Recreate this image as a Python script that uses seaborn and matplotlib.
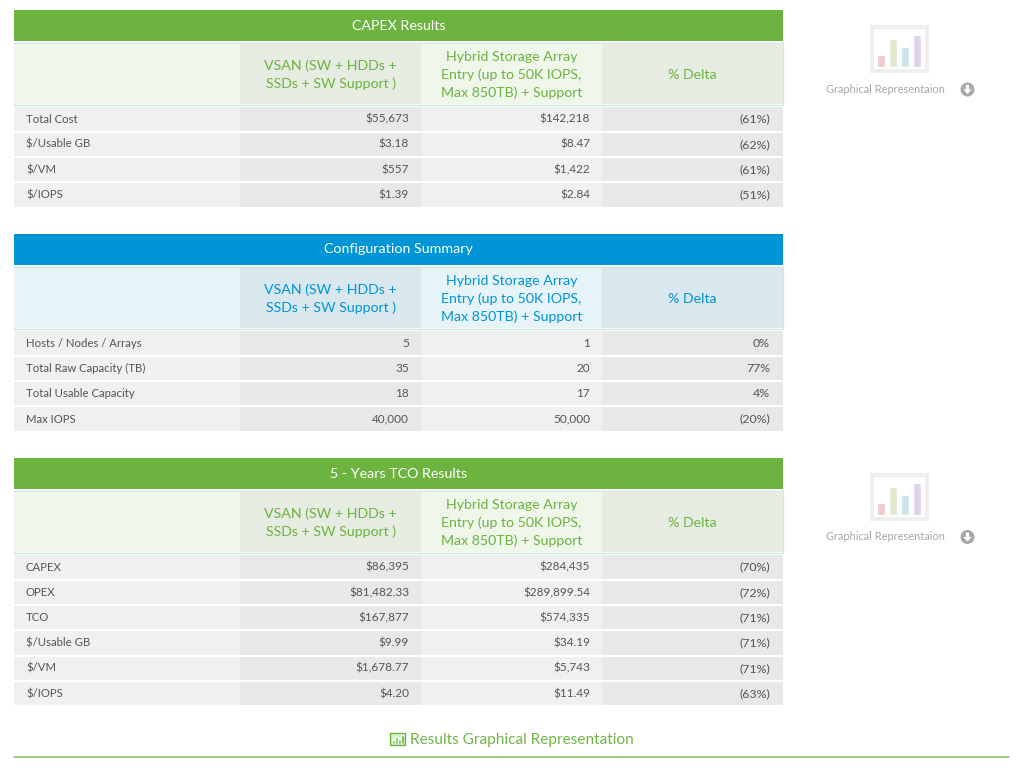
import numpy as np
import seaborn as sns
import matplotlib.pyplot as plt
from matplotlib.colors import ListedColormap
from matplotlib.patches import Rectangle, Circle, Polygon

W, H = 1024, 768

col_headers = ["", "VSAN (SW + HDDs +\nSSDs + SW Support )",
               "Hybrid Storage Array\nEntry (up to 50K IOPS,\nMax 850TB) + Support", "% Delta"]

capex_labels = ["Total Cost", "$/Usable GB", "$/VM", "$/IOPS"]
capex_vsan = ["$55,673", "$3.18", "$557", "$1.39"]
capex_hybrid = ["$142,218", "$8.47", "$1,422", "$2.84"]
capex_delta = ["(61%)", "(62%)", "(61%)", "(51%)"]

config_labels = ["Hosts / Nodes / Arrays", "Total Raw Capacity (TB)", "Total Usable Capacity", "Max IOPS"]
config_vsan = ["5", "35", "18", "40,000"]
config_hybrid = ["1", "20", "17", "50,000"]
config_delta = ["0%", "77%", "4%", "(20%)"]

tco_labels = ["CAPEX", "OPEX", "TCO", "$/Usable GB", "$/VM", "$/IOPS"]
tco_vsan = ["$86,395", "$81,482.33", "$167,877", "$9.99", "$1,678.77", "$4.20"]
tco_hybrid = ["$284,435", "$289,899.54", "$574,335", "$34.19", "$5,743", "$11.49"]
tco_delta = ["(70%)", "(72%)", "(71%)", "(71%)", "(71%)", "(63%)"]

icon_bars = [12, 28, 20, 32]
icon_colors = ["#eecccd", "#e0e8cf", "#c8e5ee", "#dcd3e8"]
small_icon_bars = [4, 7, 5, 9]

col_edges = [14, 240, 421, 602, 783]
GREEN = "#6cb33f"
BLUE = "#0095d6"

sns.set_theme(style="white")
plt.rcParams["font.family"] = ["Lato", "DejaVu Sans"]

fig = plt.figure(figsize=(W / 100, H / 100), dpi=100, facecolor="white")


def pixel_axes(x0, y0, x1, y1, zorder=1):
    ax = fig.add_axes([x0 / W, 1 - y1 / H, (x1 - x0) / W, (y1 - y0) / H], zorder=zorder)
    return ax


def draw_cells(x0, y0, x1, y1, n, color):
    ax = pixel_axes(x0, y0, x1, y1)
    sns.heatmap(np.zeros((n, 1)), ax=ax, cmap=ListedColormap([color]), cbar=False,
                xticklabels=False, yticklabels=False)
    return ax


# page level things, coordinates in pixels from the top left
bg = pixel_axes(0, 0, W, H, zorder=0)
bg.set_xlim(0, W)
bg.set_ylim(H, 0)
bg.axis("off")
top = pixel_axes(0, 0, W, H, zorder=5)
top.set_xlim(0, W)
top.set_ylim(H, 0)
top.axis("off")
top.patch.set_alpha(0)


def draw_table(title, y, labels, vsan, hybrid, delta, main, head_a, head_b):
    n = len(labels)
    # title bar
    ax = draw_cells(14, y, 783, y + 31, 1, main)
    ax.text(0.5, 0.5, title, color="white", fontsize=10.3, ha="center", va="center")

    # header block
    hy0, hy1 = y + 34, y + 94
    bg.add_patch(Rectangle((14, hy0 - 1), 769, hy1 - hy0 + 2, fc="none", ec="#cfe5ea", lw=1))
    for c in range(4):
        color = head_a if c % 2 == 0 else head_b
        ax = draw_cells(col_edges[c], hy0, col_edges[c + 1], hy1, 1, color)
        ax.text(0.5, 0.515, col_headers[c], color=main, fontsize=10.2, ha="center", va="center",
                linespacing=1.55)

    # body rows
    by0 = y + 96.5
    by1 = by0 + n * 25.3
    columns = [labels, vsan, hybrid, delta]
    for c, values in enumerate(columns):
        color = "#f0f0f0" if c % 2 == 0 else "#e8e8e8"
        x0, x1 = col_edges[c], col_edges[c + 1]
        ax = draw_cells(x0, by0, x1, by1, n, color)
        ax.hlines(range(1, n + 1), 0, 1, colors="white", lw=1.6)
        for i, v in enumerate(values):
            if c == 0:
                ax.text(12 / (x1 - x0), i + 0.5, v, color="#555555", fontsize=8.2, ha="left", va="center")
            elif c == 3:
                ax.text(1 - 13 / (x1 - x0), i + 0.5, v, color="#555555", fontsize=8.9, ha="right", va="center")
            else:
                ax.text(1 - 12 / (x1 - x0), i + 0.5, v, color="#555555", fontsize=8.5, ha="right", va="center")


def draw_icon(y):
    # frame
    top.add_patch(Rectangle((871.5, y + 2), 55, 44, fc="white", ec="#efefef", lw=3))
    ax = pixel_axes(875, y + 10, 923, y + 42, zorder=6)
    sns.barplot(x=list(range(4)), y=icon_bars, hue=list(range(4)), palette=icon_colors,
                legend=False, width=0.67, ax=ax, saturation=1)
    ax.set_ylim(0, max(icon_bars))
    ax.axis("off")
    top.text(885.5, y + 64.5, "Graphical Representaion", color="#a8a8a8", fontsize=7.9,
             ha="center", va="center")
    cx, cy = 967.5, y + 64.5
    top.add_patch(Circle((cx, cy), 7, fc="#a8a8a8", ec="none"))
    top.add_patch(Polygon([(cx - 1.6, cy - 4.5), (cx + 1.6, cy - 4.5), (cx + 1.6, cy), (cx + 4.2, cy),
                           (cx, cy + 4.5), (cx - 4.2, cy), (cx - 1.6, cy)], fc="white", ec="none"))


draw_table("CAPEX Results", 10, capex_labels, capex_vsan, capex_hybrid, capex_delta,
           GREEN, "#eff7ea", "#e6ece1")
draw_table("Configuration Summary", 234, config_labels, config_vsan, config_hybrid, config_delta,
           BLUE, "#e6f3f9", "#d9e8ef")
draw_table("5 - Years TCO Results", 458, tco_labels, tco_vsan, tco_hybrid, tco_delta,
           GREEN, "#eff7ea", "#e6ece1")

draw_icon(25)
draw_icon(472.5)

# bottom heading
top.add_patch(Rectangle((390, 732.5), 15, 12, fc="#dcedd0", ec=GREEN, lw=1))
ax = pixel_axes(392, 734, 404, 744, zorder=6)
sns.barplot(x=list(range(4)), y=small_icon_bars, color=GREEN, width=0.7, ax=ax, saturation=1)
ax.set_ylim(0, 10)
ax.axis("off")
top.text(410, 740, "Results Graphical Representation", color="#6fb548", fontsize=11.1, ha="left", va="center")
top.plot([14, 1009], [756.5, 756.5], color="#7fc25d", lw=1.1)

fig.savefig("out.png", dpi=100)
